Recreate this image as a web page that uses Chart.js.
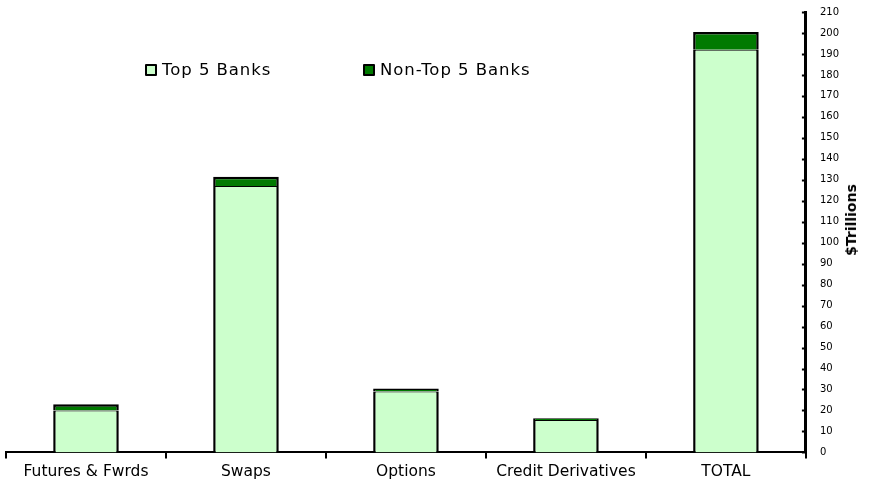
<!DOCTYPE html>
<html lang="en">
<head>
    <meta charset="UTF-8">
    <title>Derivatives by Bank Group</title>
    <script src="https://cdn.jsdelivr.net/npm/chart.js"></script>
    <style>
        body { margin: 0; background: #fff; }
        #wrap { position: relative; width: 869px; height: 485px; }
        #legend { position: absolute; top: 60px; left: 0; font: 16.5px "DejaVu Sans", Verdana, sans-serif; letter-spacing: 0.95px; color: #000; }
        .item { position: absolute; white-space: nowrap; display: flex; align-items: center; }
        .box { width: 8px; height: 8px; border: 2px solid #000; border-radius: 1px; margin-right: 5px; }
        #ytitle { position: absolute; left: 851px; top: 220px; transform: translate(-50%, -50%) rotate(-90deg);
                  font: bold 14px "DejaVu Sans", Verdana, sans-serif; white-space: nowrap; color: #000; }
    </style>
</head>
<body>
<div id="wrap">
    <canvas id="chart" width="869" height="485"></canvas>
    <div id="legend"></div>
    <div id="ytitle">$Trillions</div>
</div>
<script>
    const categories = ['Futures & Fwrds', 'Swaps', 'Options', 'Credit Derivatives', 'TOTAL'];
    const top5 = [20, 127, 29, 15.5, 192];
    const nonTop5 = [3, 4.5, 1.5, 0.8, 8.5];
    const seriesNames = ['Top 5 Banks', 'Non-Top 5 Banks'];
    const seriesColors = ['#ccffcc', '#007a00'];
    const legendX = [145, 363];

    // tick marks on the inside of the right axis
    const innerTicks = {
        id: 'innerTicks',
        afterDraw(chart) {
            const y = chart.scales.y;
            const ctx = chart.ctx;
            ctx.save();
            ctx.strokeStyle = '#000';
            ctx.lineWidth = 2;
            y.ticks.forEach(t => {
                const py = Math.round(y.getPixelForValue(t.value)) + 0.5;
                ctx.beginPath();
                ctx.moveTo(y.left - 4, py);
                ctx.lineTo(y.left, py);
                ctx.stroke();
            });
            ctx.restore();
        }
    };

    new Chart(document.getElementById('chart'), {
        type: 'bar',
        data: {
            labels: categories,
            datasets: [
                {
                    label: seriesNames[0],
                    data: top5,
                    backgroundColor: seriesColors[0],
                    borderColor: '#000',
                    borderWidth: { left: 2.5, right: 2.5, top: 1, bottom: 0 },
                    borderSkipped: false,
                    categoryPercentage: 1,
                    barPercentage: 0.41
                },
                {
                    label: seriesNames[1],
                    data: nonTop5,
                    backgroundColor: seriesColors[1],
                    borderColor: '#000',
                    borderWidth: { left: 2.5, right: 2.5, top: 2.5, bottom: 0 },
                    borderSkipped: false,
                    categoryPercentage: 1,
                    barPercentage: 0.41
                }
            ]
        },
        options: {
            responsive: false,
            animation: false,
            layout: { padding: { left: 6, top: 0, right: 24, bottom: 0 } },
            plugins: { legend: { display: false }, tooltip: { enabled: false } },
            scales: {
                x: {
                    stacked: true,
                    grid: { offset: true, drawOnChartArea: false, color: '#000', tickLength: 6, lineWidth: 2 },
                    border: { display: true, color: '#000', width: 2 },
                    ticks: { color: '#000', font: { family: 'DejaVu Sans', size: 15.5 }, padding: 4, maxRotation: 0 }
                },
                y: {
                    stacked: true,
                    position: 'right',
                    min: 0,
                    max: 210,
                    grid: { display: false },
                    border: { display: true, color: '#000', width: 3 },
                    ticks: { stepSize: 10, color: '#000', font: { family: 'DejaVu Sans', size: 10 }, padding: 6 }
                }
            }
        },
        plugins: [innerTicks]
    });

    const legend = document.getElementById('legend');
    seriesNames.forEach((name, i) => {
        const item = document.createElement('div');
        item.className = 'item';
        item.style.left = legendX[i] + 'px';
        item.innerHTML = '<span class="box" style="background:' + seriesColors[i] + '"></span>' + name;
        legend.appendChild(item);
    });
</script>
</body>
</html>
